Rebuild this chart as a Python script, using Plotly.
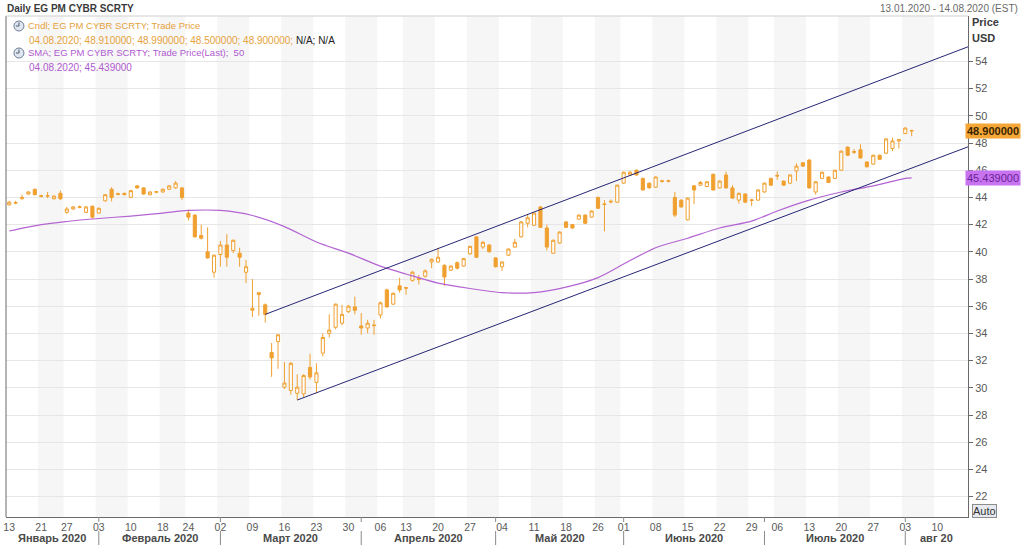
import math
from datetime import datetime, timedelta
import plotly.graph_objects as go

# ---------------- trading calendar (US, 2020) ----------------
jan_days = [13, 14, 15, 16, 17, 21, 22, 23, 24, 27, 28, 29, 30, 31]
feb_days = [3, 4, 5, 6, 7, 10, 11, 12, 13, 14, 18, 19, 20, 21, 24, 25, 26, 27, 28]
mar_days = [2, 3, 4, 5, 6, 9, 10, 11, 12, 13, 16, 17, 18, 19, 20, 23, 24, 25, 26, 27, 30, 31]
apr_days = [1, 2, 3, 6, 7, 8, 9, 13, 14, 15, 16, 17, 20, 21, 22, 23, 24, 27, 28, 29, 30]
may_days = [1, 4, 5, 6, 7, 8, 11, 12, 13, 14, 15, 18, 19, 20, 21, 22, 26, 27, 28, 29]
jun_days = [1, 2, 3, 4, 5, 8, 9, 10, 11, 12, 15, 16, 17, 18, 19, 22, 23, 24, 25, 26, 29, 30]
jul_days = [1, 2, 6, 7, 8, 9, 10, 13, 14, 15, 16, 17, 20, 21, 22, 23, 24, 27, 28, 29, 30, 31]
aug_days = [3, 4]
future_days = ["2020-08-05", "2020-08-06", "2020-08-07", "2020-08-10",
               "2020-08-11", "2020-08-12", "2020-08-13", "2020-08-14"]
holidays = ["2020-01-20", "2020-02-17", "2020-04-10", "2020-05-25", "2020-07-03"]

# ---------------- OHLC ----------------
opens = [43.45, 43.58, 43.90, 44.25, 44.60, 44.12, 44.12, 43.90, 44.30, 42.90,
         43.15, 43.32, 42.90, 43.35, 42.85, 43.75, 44.60, 44.27, 44.30, 44.00,
         44.85, 44.70, 44.20, 44.38, 44.40, 44.60, 44.70, 44.70, 42.85, 42.70,
         41.20, 40.00, 38.50, 39.80, 40.50, 40.10, 39.90, 38.50, 35.70, 36.85,
         36.10, 32.60, 33.40, 30.05, 29.80, 29.60, 29.55, 31.50, 30.40, 32.55,
         34.00, 34.45, 34.75, 35.60, 35.95, 34.55, 34.40, 34.62, 35.35, 37.20,
         36.15, 37.50, 37.37, 37.90, 38.02, 38.20, 39.25, 39.25, 39.00, 38.65,
         39.20, 38.95, 39.85, 41.10, 40.35, 40.50, 39.55, 38.90, 39.75, 40.35,
         41.10, 42.10, 41.95, 43.30, 41.75, 39.90, 40.65, 42.20, 42.00, 42.40,
         42.70, 42.55, 44.00, 43.52, 43.72, 43.65, 45.05, 45.65, 46.00, 45.40,
         45.05, 44.75, 45.22, 45.18, 44.00, 43.80, 42.35, 44.85, 44.90, 44.80,
         45.70, 44.70, 45.65, 44.70, 43.80, 44.25, 43.82, 43.80, 44.40, 45.40,
         45.62, 45.20, 45.05, 45.95, 46.55, 46.75, 44.40, 45.40, 45.50, 45.40,
         46.00, 47.70, 47.37, 47.50, 46.60, 46.45, 47.10, 47.25, 47.60, 48.15,
         48.70, 48.91]
highs = [43.75, 43.75, 44.20, 44.45, 44.65, 44.20, 44.40, 44.15, 44.50, 43.30,
         43.35, 43.40, 43.35, 43.40, 43.25, 44.25, 44.75, 44.35, 44.35, 44.55,
         44.90, 44.75, 44.45, 44.45, 44.65, 44.90, 45.20, 44.75, 43.10, 42.75,
         42.00, 41.80, 39.80, 40.80, 41.30, 40.90, 40.30, 39.40, 38.00, 37.05,
         36.20, 33.30, 33.95, 31.90, 31.90, 31.00, 31.00, 32.50, 31.80, 34.00,
         35.40, 36.20, 36.10, 36.10, 36.70, 35.50, 35.00, 35.00, 36.35, 37.30,
         37.00, 38.10, 37.40, 38.60, 38.30, 38.70, 39.50, 40.30, 39.10, 39.00,
         39.30, 39.55, 40.45, 41.15, 40.80, 40.55, 39.60, 39.30, 40.25, 40.95,
         42.25, 42.75, 42.90, 43.35, 42.00, 40.90, 41.50, 42.25, 42.05, 42.75,
         42.75, 43.05, 44.05, 43.80, 43.85, 44.95, 45.90, 45.95, 46.05, 45.45,
         45.10, 45.55, 45.30, 45.30, 44.40, 43.85, 44.00, 44.90, 45.20, 45.20,
         45.75, 45.25, 45.90, 44.90, 44.35, 44.30, 43.90, 44.60, 45.10, 45.45,
         45.90, 45.25, 45.70, 46.50, 46.60, 46.80, 45.20, 45.90, 45.55, 46.05,
         47.45, 47.75, 47.55, 47.90, 46.65, 47.15, 47.15, 48.35, 48.40, 48.30,
         49.15, 48.99]
lows = [43.40, 43.50, 43.85, 44.20, 44.15, 44.00, 43.95, 43.85, 43.80, 42.80,
        43.10, 43.20, 42.85, 42.45, 42.80, 43.70, 43.70, 44.15, 44.15, 43.95,
        44.65, 44.20, 44.15, 44.30, 44.35, 44.55, 44.65, 43.80, 42.30, 41.05,
        40.90, 39.50, 38.10, 38.90, 38.90, 39.90, 38.90, 37.70, 35.20, 35.30,
        34.80, 30.80, 31.40, 29.90, 29.50, 29.10, 29.30, 30.60, 29.60, 32.30,
        33.70, 34.30, 34.60, 35.50, 35.40, 33.90, 34.00, 33.90, 35.10, 35.90,
        36.10, 37.00, 36.85, 37.80, 37.60, 38.10, 38.80, 39.20, 37.50, 38.60,
        38.70, 38.90, 39.80, 39.55, 40.20, 39.95, 38.85, 38.60, 39.70, 40.30,
        41.05, 41.80, 41.90, 41.75, 40.10, 39.85, 40.60, 41.75, 41.70, 42.35,
        42.05, 42.50, 43.15, 41.50, 43.55, 43.60, 45.00, 45.60, 45.60, 44.50,
        44.65, 44.70, 45.10, 45.10, 42.55, 43.25, 42.30, 43.50, 44.85, 44.75,
        44.50, 44.65, 44.65, 43.90, 43.55, 43.60, 43.35, 43.75, 44.35, 44.85,
        45.30, 44.85, 45.00, 45.20, 46.25, 44.65, 44.20, 45.35, 45.05, 45.35,
        45.95, 47.05, 47.20, 46.85, 46.20, 46.40, 46.75, 47.20, 47.40, 47.60,
        48.65, 48.50]
closes = [43.65, 43.62, 44.00, 44.40, 44.20, 44.08, 44.10, 44.10, 43.90, 43.15,
          43.30, 43.28, 43.30, 42.55, 43.20, 44.20, 44.00, 44.23, 44.20, 44.50,
          44.70, 44.25, 44.40, 44.42, 44.60, 44.85, 45.05, 44.00, 42.55, 41.10,
          41.00, 39.55, 39.75, 40.50, 39.60, 40.85, 39.60, 38.90, 35.85, 37.00,
          35.40, 32.20, 33.90, 30.35, 31.80, 30.05, 30.90, 30.80, 31.10, 33.70,
          34.25, 36.15, 35.40, 36.00, 35.70, 34.40, 34.75, 34.58, 36.25, 35.95,
          36.95, 37.20, 37.33, 38.50, 37.98, 38.60, 39.45, 39.60, 38.15, 38.95,
          38.80, 39.50, 40.40, 39.60, 40.70, 40.00, 38.90, 39.25, 40.20, 40.70,
          42.20, 42.50, 42.85, 41.80, 40.35, 40.85, 41.45, 41.80, 41.75, 42.70,
          42.10, 43.00, 43.20, 43.48, 43.68, 44.90, 45.85, 45.85, 45.65, 44.55,
          44.70, 45.50, 45.18, 45.22, 42.70, 43.30, 43.95, 44.55, 45.10, 45.15,
          44.55, 45.20, 44.70, 43.95, 44.30, 43.65, 43.78, 44.55, 45.05, 44.90,
          45.58, 44.90, 45.65, 46.30, 46.30, 44.70, 45.15, 45.85, 45.10, 46.00,
          47.40, 47.10, 47.33, 46.90, 46.25, 47.10, 46.80, 48.30, 48.15, 48.25,
          49.10, 48.90]

# ---------------- SMA(50) ----------------
sma_dates = ["2020-01-13", "2020-01-21", "2020-01-27", "2020-02-03", "2020-02-10",
             "2020-02-18", "2020-02-24", "2020-03-02", "2020-03-09", "2020-03-16",
             "2020-03-23", "2020-03-30", "2020-04-06", "2020-04-13", "2020-04-20",
             "2020-04-27", "2020-05-04", "2020-05-11", "2020-05-18", "2020-05-26",
             "2020-06-01", "2020-06-08", "2020-06-15", "2020-06-22", "2020-06-29",
             "2020-07-06", "2020-07-13", "2020-07-20", "2020-07-27", "2020-08-03",
             "2020-08-04"]
sma_values = [41.53, 42.00, 42.23, 42.45, 42.63, 42.85, 43.04, 43.04, 42.67, 41.85,
              40.72, 39.90, 38.95, 38.37, 37.70, 37.30, 37.00, 37.00, 37.40, 38.10,
              39.10, 40.30, 41.00, 41.75, 42.26, 43.00, 43.80, 44.40, 44.85, 45.40,
              45.439]

# ---------------- trend channel ----------------
upper_dates = ["2020-03-11", "2020-08-17"]
upper_values = [35.40, 55.47]
lower_dates = ["2020-03-18", "2020-08-17"]
lower_values = [29.10, 48.11]

# ---------------- axis labels ----------------
tick_dates = ["2020-01-13", "2020-01-21", "2020-01-27", "2020-02-03", "2020-02-10",
              "2020-02-18", "2020-02-24", "2020-03-02", "2020-03-09", "2020-03-16",
              "2020-03-23", "2020-03-30", "2020-04-06", "2020-04-13", "2020-04-20",
              "2020-04-27", "2020-05-04", "2020-05-11", "2020-05-18", "2020-05-26",
              "2020-06-01", "2020-06-08", "2020-06-15", "2020-06-22", "2020-06-29",
              "2020-07-06", "2020-07-13", "2020-07-20", "2020-07-27", "2020-08-03",
              "2020-08-10"]
tick_text = ["13", "21", "27", "03", "10", "18", "24", "02", "09", "16", "23", "30",
             "06", "13", "20", "27", "04", "11", "18", "26", "01", "08", "15", "22",
             "29", "06", "13", "20", "27", "03", "10"]
month_labels = ["Январь 2020", "Февраль 2020", "Март 2020", "Апрель 2020",
                "Май 2020", "Июнь 2020", "Июль 2020", "авг 20"]
y_ticks = [22, 24, 26, 28, 30, 32, 34, 36, 38, 40, 42, 44, 46, 48, 50, 52, 54]
last_close = 48.90
last_sma = 45.439

# ---------------- build ----------------
month_lists = [jan_days, feb_days, mar_days, apr_days, may_days, jun_days, jul_days, aug_days]
dates = [f"2020-{m + 1:02d}-{d:02d}" for m, days in enumerate(month_lists) for d in days]
month_start_idx = []
acc = 0
for days in month_lists:
    month_start_idx.append(acc)
    acc += len(days)

axis_days = ["2020-01-10"] + dates + future_days  # index -1 .. 149
X_START, X_END = -0.5, 149.8


def idx_date(p):
    k = int(math.floor(p))
    f = p - k
    d = datetime.strptime(axis_days[k + 1], "%Y-%m-%d") + timedelta(days=f)
    return d.strftime("%Y-%m-%d %H:%M:%S")


# plot area in pixels
PL, PR, PT, PB = 3, 968, 16, 517
W, H = 1024, 545


def px(x):
    return (x - PL) / (PR - PL)


def py(y):
    return (PB - y) / (PB - PT)


ORANGE = "#f0a030"
PURPLE = "#b464d2"
NAVY = "#262675"
FONT = "Liberation Sans, Arial, sans-serif"

fig = go.Figure()

fig.add_trace(go.Candlestick(
    x=dates, open=opens, high=highs, low=lows, close=closes,
    increasing=dict(line=dict(color=ORANGE, width=1), fillcolor="white"),
    decreasing=dict(line=dict(color=ORANGE, width=1), fillcolor=ORANGE),
    whiskerwidth=0, hoverinfo="skip", showlegend=False,
))
fig.add_trace(go.Scatter(
    x=sma_dates, y=sma_values, mode="lines", line=dict(color=PURPLE, width=1.2, shape="spline", smoothing=0.8),
    hoverinfo="skip", showlegend=False,
))
fig.add_trace(go.Scatter(
    x=upper_dates, y=upper_values, mode="lines", line=dict(color=NAVY, width=1),
    hoverinfo="skip", showlegend=False,
))
fig.add_trace(go.Scatter(
    x=lower_dates, y=lower_values, mode="lines", line=dict(color=NAVY, width=1),
    hoverinfo="skip", showlegend=False,
))

shapes = []
# alternating weekly bands
weeks = []
for i, d in enumerate(axis_days[1:]):
    wk = datetime.strptime(d, "%Y-%m-%d").isocalendar()[1]
    if weeks and weeks[-1][0] == wk:
        weeks[-1][2] = i
    else:
        weeks.append([wk, i, i])
for n, (wk, a, b) in enumerate(weeks):
    if n % 2 == 1:
        x1 = idx_date(b + 0.5) if b < 149 else idx_date(X_END)
        shapes.append(dict(type="rect", xref="x", yref="paper", x0=idx_date(a - 0.5), x1=x1,
                           y0=0, y1=1, fillcolor="#f6f6f6", line=dict(width=0), layer="below"))
# frame
shapes.append(dict(type="line", xref="paper", yref="paper", x0=0, x1=0, y0=0, y1=1,
                   line=dict(color="#6a6a6a", width=1)))
shapes.append(dict(type="line", xref="paper", yref="paper", x0=0, x1=1, y0=1, y1=1,
                   line=dict(color="#cfcfcf", width=1)))
# month separators
for k in month_start_idx[1:]:
    shapes.append(dict(type="line", xref="x", yref="paper", x0=axis_days[k + 1], x1=axis_days[k + 1],
                       y0=py(531), y1=py(545), line=dict(color="#8a8a8a", width=1)))
    shapes.append(dict(type="line", xref="x", yref="paper", x0=axis_days[k + 1], x1=axis_days[k + 1],
                       y0=0, y1=py(522), line=dict(color="#8a8a8a", width=1)))
# clock icons
for cy in (26, 53):
    shapes.append(dict(type="circle", xref="paper", yref="paper", x0=px(11), x1=px(21),
                       y0=py(cy + 5), y1=py(cy - 5), fillcolor="#dfe6f0", line=dict(color="#6d7d95", width=1)))
    shapes.append(dict(type="line", xref="paper", yref="paper", x0=px(16), x1=px(16),
                       y0=py(cy), y1=py(cy - 3.5), line=dict(color="#4a5a70", width=1)))
    shapes.append(dict(type="line", xref="paper", yref="paper", x0=px(16), x1=px(13),
                       y0=py(cy), y1=py(cy), line=dict(color="#4a5a70", width=1)))

annotations = []
# month labels
bounds = [X_START] + month_start_idx[1:] + [X_END]
for j, lab in enumerate(month_labels):
    mid = (bounds[j] + bounds[j + 1]) / 2
    annotations.append(dict(xref="x", yref="paper", x=idx_date(mid), y=py(538), text=f"<b>{lab}</b>",
                            showarrow=False, xanchor="center", yanchor="middle",
                            font=dict(family=FONT, size=11, color="#4a4a4a")))
# headers
annotations.append(dict(xref="paper", yref="paper", x=px(2), y=py(8), text="<b>Daily EG PM CYBR SCRTY</b>",
                        showarrow=False, xanchor="left", yanchor="middle",
                        font=dict(family=FONT, size=10, color="#3a3a3a")))
annotations.append(dict(xref="paper", yref="paper", x=px(1020), y=py(8),
                        text="13.01.2020 - 14.08.2020 (EST)", showarrow=False, xanchor="right",
                        yanchor="middle", font=dict(family=FONT, size=10, color="#6a6a6a")))
# legend block
annotations.append(dict(xref="paper", yref="paper", x=px(23), y=py(26),
                        text="Cndl; EG PM CYBR SCRTY; Trade Price", showarrow=False,
                        xanchor="left", yanchor="middle", font=dict(family=FONT, size=9.5, color="#e6a23c")))
annotations.append(dict(xref="paper", yref="paper", x=px(24), y=py(40),
                        text=("<span style='color:#e6a23c'>04.08.2020; 48.910000; 48.990000; 48.500000; 48.900000;</span>"
                              "<span style='color:#222222'> N/A; N/A</span>"),
                        showarrow=False, xanchor="left", yanchor="middle", font=dict(family=FONT, size=10)))
annotations.append(dict(xref="paper", yref="paper", x=px(23), y=py(53),
                        text="SMA; EG PM CYBR SCRTY; Trade Price(Last);  50", showarrow=False,
                        xanchor="left", yanchor="middle", font=dict(family=FONT, size=9.5, color="#b05ad0")))
annotations.append(dict(xref="paper", yref="paper", x=px(24), y=py(67),
                        text=f"04.08.2020; {last_sma:.6f}", showarrow=False,
                        xanchor="left", yanchor="middle", font=dict(family=FONT, size=10, color="#b05ad0")))
# right axis captions
annotations.append(dict(xref="paper", yref="paper", x=px(970), y=py(22), text="<b>Price</b>",
                        showarrow=False, xanchor="left", yanchor="middle",
                        font=dict(family=FONT, size=11, color="#3a3a3a")))
annotations.append(dict(xref="paper", yref="paper", x=px(970), y=py(38), text="<b>USD</b>",
                        showarrow=False, xanchor="left", yanchor="middle",
                        font=dict(family=FONT, size=11, color="#3a3a3a")))
# last value tags
annotations.append(dict(xref="paper", yref="y", x=px(965), y=last_close, text=f"<b>{last_close:.6f}</b>",
                        showarrow=False, xanchor="left", yanchor="middle", bgcolor="#f4a636",
                        borderpad=1, font=dict(family=FONT, size=11, color="#3a2400")))
annotations.append(dict(xref="paper", yref="y", x=px(965), y=last_sma, text=f"{last_sma:.6f}",
                        showarrow=False, xanchor="left", yanchor="middle", bgcolor="#c873f0",
                        borderpad=1, font=dict(family=FONT, size=11, color="#6a2596")))
# Auto button
annotations.append(dict(xref="paper", yref="paper", x=px(985), y=py(511), text="Auto",
                        showarrow=False, xanchor="center", yanchor="middle", bgcolor="#e6eaf0",
                        bordercolor="#8c8c8c", borderwidth=1, borderpad=0,
                        font=dict(family=FONT, size=11, color="#333333")))

fig.update_layout(
    width=W, height=H,
    margin=dict(l=PL, r=W - PR, t=PT, b=H - PB, pad=0),
    paper_bgcolor="white", plot_bgcolor="white",
    showlegend=False,
    shapes=shapes, annotations=annotations,
    xaxis=dict(
        type="date", range=[idx_date(X_START), idx_date(X_END)],
        rangebreaks=[dict(bounds=["sat", "mon"]), dict(values=holidays)],
        tickmode="array", tickvals=tick_dates, ticktext=tick_text,
        showgrid=False, zeroline=False, showline=True, linecolor="#6a6a6a", linewidth=1,
        ticks="", tickfont=dict(family=FONT, size=10.5, color="#5a5a5a"),
        rangeslider=dict(visible=False), fixedrange=True,
    ),
    yaxis=dict(
        side="right", range=[20.5, 57.34], tickmode="array", tickvals=y_ticks,
        showgrid=True, gridcolor="#e6e6e6", gridwidth=1, zeroline=False,
        showline=True, linecolor="#6a6a6a", linewidth=1,
        ticks="outside", ticklen=4, tickcolor="#6a6a6a",
        tickfont=dict(family=FONT, size=11, color="#5a5a5a"), fixedrange=True,
    ),
)

fig.write_html("out.html", config={"displayModeBar": False},
               post_script="document.body.style.margin='0';document.body.style.overflow='hidden';")
